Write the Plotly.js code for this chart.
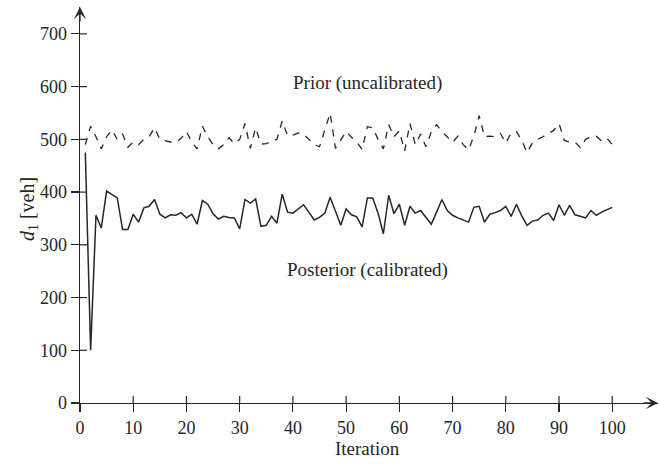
<!DOCTYPE html>
<html>
<head>
<meta charset="utf-8">
<script src="https://cdn.plot.ly/plotly-3.0.1.min.js"></script>
<style>html,body{margin:0;padding:0;background:#fff;}#chart{width:659px;height:465px;}</style>
</head>
<body>
<div id="chart"></div>
<script>
const iterations = Array.from({length: 100}, (_, i) => i + 1);

const priorValues = [
  490, 525, 505, 482, 505, 518, 500, 510, 485, 495,
  490, 500, 505, 522, 500, 497, 495, 494, 502, 515,
  495, 482, 525, 505, 490, 482, 490, 503, 492, 500,
  530, 483, 522, 491, 492, 496, 500, 535, 507, 508,
  512, 510, 500, 490, 486, 520, 550, 483, 500, 515,
  504, 495, 481, 524, 522, 500, 482, 528, 505, 516,
  478, 530, 490, 510, 486, 514, 528, 514, 505, 494,
  506, 490, 480, 506, 545, 505, 506, 505, 511, 493,
  512, 515, 498, 475, 493, 500, 505, 511, 517, 530,
  498, 495, 495, 484, 500, 505, 506, 497, 502, 490
];

const posteriorValues = [
  475, 100, 356, 332, 402, 396, 389, 329, 329, 358,
  343, 370, 373, 386, 358, 351, 357, 356, 361, 351,
  358, 339, 384, 377, 359, 349, 354, 352, 351, 330,
  386, 379, 387, 335, 337, 354, 341, 396, 362, 360,
  368, 376, 362, 347, 352, 360, 390, 364, 337, 368,
  357, 353, 334, 389, 389, 360, 321, 394, 359, 377,
  337, 373, 360, 365, 353, 339, 362, 386, 365, 356,
  351, 347, 343, 371, 373, 343, 358, 361, 365, 373,
  354, 377, 355, 337, 345, 347, 356, 360, 346, 376,
  356, 375, 357, 354, 351, 365, 356, 362, 367, 371
];

const xTicks = [0, 10, 20, 30, 40, 50, 60, 70, 80, 90, 100];
const yTicks = [0, 100, 200, 300, 400, 500, 600, 700];
const priorLabel = 'Prior (uncalibrated)';
const posteriorLabel = 'Posterior (calibrated)';

const ink = '#262626';
const serif = 'Liberation Serif, Times New Roman, serif';

const W = 659, H = 465;
const M = {l: 80, r: 1, t: 7, b: 62};
const plotW = W - M.l - M.r, plotH = H - M.t - M.b;
const innerTick = 7; // px, part of each tick drawn inside the plot

const traces = [
  {x: iterations, y: priorValues, type: 'scatter', mode: 'lines',
   line: {color: ink, width: 1.3, dash: '7px,7px'}, hoverinfo: 'skip', showlegend: false},
  {x: iterations, y: posteriorValues, type: 'scatter', mode: 'lines',
   line: {color: ink, width: 1.5}, hoverinfo: 'skip', showlegend: false}
];

const xRange = [0, 108.6];
const yRange = [0, 751];

// inner halves of the crossing tick marks, one per tick value
const tickShapes = [
  ...xTicks.filter(v => v > 0).map(v => ({type: 'line', xref: 'x', yref: 'paper',
    x0: v, x1: v, y0: 0, y1: innerTick / plotH, line: {color: ink, width: 1.2}})),
  ...yTicks.filter(v => v > 0).map(v => ({type: 'line', xref: 'paper', yref: 'y',
    x0: 0, x1: innerTick / plotW, y0: v, y1: v, line: {color: ink, width: 1.2}}))
];

const layout = {
  width: W, height: H,
  margin: M,
  paper_bgcolor: '#fff', plot_bgcolor: '#fff',
  showlegend: false,
  font: {family: serif, size: 18, color: ink},
  xaxis: {
    range: xRange, tickvals: xTicks, ticktext: xTicks.map(String),
    ticks: 'outside', ticklen: 8, tickwidth: 1.2, tickcolor: ink,
    showline: true, linecolor: ink, linewidth: 1.3,
    showgrid: false, zeroline: false,
    tickfont: {family: serif, size: 18, color: ink}
  },
  yaxis: {
    range: yRange, tickvals: yTicks, ticktext: yTicks.map(String),
    ticks: 'outside', ticklen: 8, tickwidth: 1.2, tickcolor: ink,
    showline: true, linecolor: ink, linewidth: 1.3,
    showgrid: false, zeroline: false,
    tickfont: {family: serif, size: 18, color: ink}
  },
  shapes: tickShapes,
  annotations: [
    {xref: 'paper', yref: 'paper', x: 0.498, y: -0.115, yanchor: 'middle', xanchor: 'center',
     text: 'Iteration', showarrow: false, font: {family: serif, size: 19, color: ink}},
    {xref: 'paper', yref: 'paper', x: -0.088, y: 0.49, xanchor: 'center', yanchor: 'middle',
     text: '<i>d</i><sub>1</sub> [veh]', textangle: -90, showarrow: false,
     font: {family: serif, size: 20, color: ink}},
    {xref: 'x', yref: 'y', x: 54, y: 607, text: priorLabel, showarrow: false,
     font: {family: serif, size: 19, color: ink}},
    {xref: 'x', yref: 'y', x: 54, y: 252, text: posteriorLabel, showarrow: false,
     font: {family: serif, size: 19, color: ink}},
    {xref: 'paper', yref: 'y', x: 1, y: 0, ax: -16, ay: 0, text: '', showarrow: true,
     arrowhead: 3, arrowsize: 1.6, arrowwidth: 1.3, arrowcolor: ink, standoff: 0},
    {xref: 'x', yref: 'paper', x: 0, y: 1, ax: 0, ay: 16, text: '', showarrow: true,
     arrowhead: 3, arrowsize: 1.6, arrowwidth: 1.3, arrowcolor: ink, standoff: 0}
  ]
};

Plotly.newPlot('chart', traces, layout, {displayModeBar: false, staticPlot: true});
</script>
</body>
</html>
